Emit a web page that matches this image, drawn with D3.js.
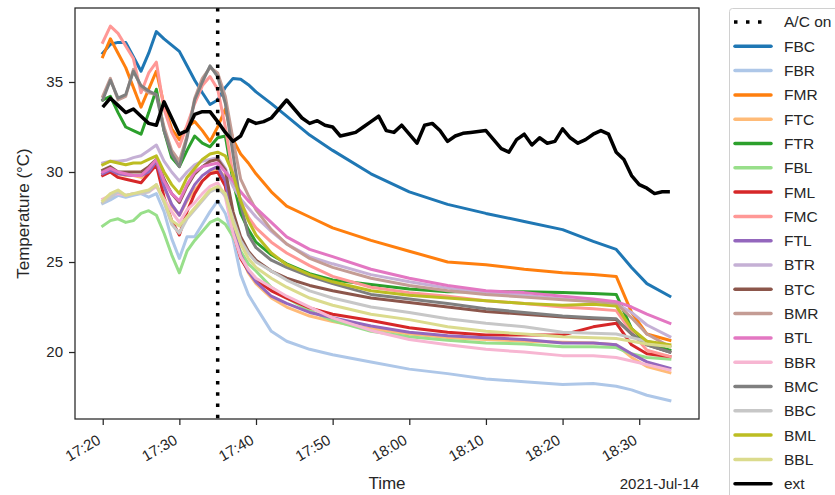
<!DOCTYPE html>
<html>
<head>
<meta charset="utf-8">
<script src="https://cdn.jsdelivr.net/npm/d3@7"></script>
<style>
body { margin: 0; background: #fff; }
text { font-family: "Liberation Sans", Arial, sans-serif; fill: #262626; }
</style>
</head>
<body>
<script>
var w = 835;
var h = 495;
var plot = {left: 75, right: 699, top: 8, bottom: 419};

var day = "2021-07-14";
var startTime = "17:20";
var acOnTime = "17:35";
var xDomain = ["17:16:23", "18:37:48"];
var yDomain = [16.28, 39.11];
var xTicks = ["17:20", "17:30", "17:40", "17:50", "18:00", "18:10", "18:20", "18:30"];
var yTicks = [20, 25, 30, 35];

var sensorMin = [0, 1, 2, 3, 4, 5, 6, 7, 8, 9, 10, 11, 12, 13, 14, 15, 16, 17, 18, 19, 20,
                 22, 24, 27, 30, 35, 40, 45, 50, 55, 60, 64, 67, 69, 71, 74];

var FBC = [36.6,37.1,37.2,37.2,36.4,35.6,36.6,37.8,37.4,37.05,36.7,35.9,35.1,34.4,33.75,34.0,34.7,35.2,35.15,34.85,34.45, 33.8,33.1,32.05,31.2,29.9,28.9,28.2,27.7,27.25,26.8,26.15,25.7,24.7,23.8,23.1];
var FBR = [28.25,28.45,28.7,28.6,28.7,28.8,28.6,28.8,27.8,26.3,25.2,26.4,26.4,27.1,27.8,28.4,27.7,26.3,24.3,23.2,22.5, 21.15,20.6,20.15,19.85,19.45,19.05,18.8,18.5,18.35,18.2,18.25,18.1,17.9,17.6,17.3];
var FMR = [36.4,37.4,36.6,35.8,34.7,33.6,34.6,35.6,33.7,32.4,31.8,32.5,32.8,32.3,31.7,32.5,33.5,31.8,31.0,30.5,29.9, 28.9,28.1,27.5,26.9,26.2,25.6,25.0,24.85,24.6,24.4,24.3,24.2,22.2,21.0,20.65];
var FTC = [29.9,30.1,29.9,29.8,29.8,29.7,30.0,30.6,29.2,28.1,27.6,28.4,29.0,29.5,29.9,30.2,29.7,27.3,25.4,24.4,23.8, 23.0,22.5,22.0,21.7,21.3,21.0,20.8,20.7,20.6,20.55,20.5,20.4,19.7,19.2,18.85];
var FTR = [34.0,34.2,33.3,32.5,32.3,32.1,33.3,34.6,32.3,30.8,30.3,31.2,32.0,31.6,31.4,31.9,32.0,29.5,27.7,26.8,26.1, 25.4,24.9,24.35,24.0,23.75,23.5,23.35,23.35,23.35,23.3,23.25,23.2,21.3,20.5,20.1];
var FBL = [27.0,27.3,27.4,27.2,27.3,27.7,27.85,27.6,26.6,25.4,24.4,25.6,26.2,26.7,27.2,27.4,27.1,26.4,25.6,24.9,24.5, 23.6,23.0,22.3,21.75,21.15,20.85,20.65,20.5,20.45,20.3,20.3,20.25,19.9,19.7,19.6];
var FML = [29.8,30.0,29.7,29.6,29.5,29.4,29.9,30.4,28.6,27.3,26.5,27.8,28.8,29.5,29.9,30.0,29.2,26.7,25.2,24.5,24.0, 23.4,23.0,22.45,22.1,21.75,21.35,21.1,20.95,20.95,20.95,21.4,21.6,20.4,19.9,19.75];
var FMC = [37.2,38.1,37.7,37.0,36.3,34.4,35.5,36.1,33.5,32.2,31.4,32.6,33.8,34.8,35.3,34.6,32.5,29.8,28.3,27.5,26.9, 26.1,25.5,24.8,24.2,23.6,23.3,23.1,22.85,22.7,22.5,22.4,22.3,21.1,20.1,19.75];
var FTL = [29.9,30.1,29.9,29.85,29.8,29.8,30.0,30.6,29.2,28.2,27.6,28.5,29.3,29.8,30.1,30.3,29.5,27.0,25.4,24.5,23.9, 23.1,22.7,22.2,21.9,21.45,21.1,20.9,20.8,20.7,20.5,20.5,20.4,19.9,19.45,19.1];
var BTR = [30.5,30.6,30.6,30.65,30.8,30.9,31.2,31.5,30.6,30.0,29.5,30.0,30.4,30.6,30.7,30.8,30.2,29.2,28.5,28.0,27.5, 26.7,26.0,25.3,24.9,24.3,23.9,23.55,23.3,23.15,22.95,22.8,22.7,22.2,21.5,20.85];
var BTC = [30.1,30.3,30.0,30.0,30.0,30.0,30.3,30.7,29.6,28.8,28.3,29.2,29.9,30.3,30.6,30.7,30.1,27.8,26.4,25.6,25.1, 24.5,24.1,23.7,23.4,23.0,22.75,22.5,22.25,22.1,21.95,21.85,21.8,21.0,20.4,20.0];
var BMR = [34.2,35.2,34.0,34.2,35.7,34.7,34.4,34.3,32.5,31.2,30.6,32.0,34.1,35.2,35.8,35.5,34.2,31.8,29.6,28.7,27.9, 26.8,26.0,25.2,24.7,24.1,23.7,23.4,23.2,23.05,22.9,22.8,22.7,21.9,21.0,20.3];
var BTL = [30.0,30.2,30.0,29.9,29.8,29.8,30.2,30.7,29.5,28.8,28.4,29.3,30.0,30.3,30.4,30.5,30.0,29.5,28.9,28.4,28.0, 27.2,26.4,25.7,25.3,24.6,24.1,23.7,23.4,23.3,23.1,22.95,22.8,22.5,22.1,21.6];
var BBR = [28.5,28.7,28.8,28.7,28.8,28.8,28.9,29.2,28.5,27.8,27.2,27.9,28.3,28.8,29.2,29.4,28.6,26.6,25.3,24.6,24.1, 23.6,23.1,22.5,21.9,21.2,20.7,20.4,20.15,20.0,19.8,19.8,19.7,19.5,19.3,19.0];
var BMC = [34.0,35.1,34.1,34.3,35.6,34.8,34.5,34.3,32.3,31.0,30.3,31.9,34.0,35.0,35.9,35.3,33.8,31.0,28.2,26.5,25.8, 25.1,24.7,24.2,23.8,23.2,22.95,22.7,22.4,22.2,22.0,21.9,21.85,21.0,20.4,20.0];
var BBC = [28.3,28.6,28.9,28.7,28.8,28.8,28.9,29.3,28.3,27.1,26.6,27.4,27.9,28.4,28.9,29.1,28.7,27.4,26.2,25.5,25.0, 24.5,24.0,23.4,23.0,22.5,22.2,21.85,21.6,21.4,21.1,21.05,21.0,20.8,20.6,20.3];
var BML = [30.4,30.6,30.5,30.4,30.5,30.5,30.7,30.9,30.0,29.3,28.8,29.7,30.2,30.7,31.0,31.1,30.9,29.9,28.4,27.3,26.5, 25.5,24.85,24.3,23.9,23.4,23.15,23.0,22.85,22.7,22.6,22.65,22.55,21.3,20.6,20.4];
var BBL = [28.4,28.8,29.0,28.7,28.8,28.9,29.0,29.3,28.4,27.3,27.0,27.5,28.0,28.5,29.0,29.2,28.8,27.2,26.0,25.2,24.7, 24.1,23.6,23.0,22.6,22.1,21.8,21.4,21.15,21.0,20.85,20.8,20.75,20.6,20.45,20.3];

// outside temperature, one reading per minute from 17:20
var ext = [33.6,34.1,33.7,33.3,33.5,33.1,32.7,32.6,33.9,33.0,
           32.1,32.3,33.2,33.35,33.35,32.8,32.2,31.7,32.0,32.9,
           32.7,32.8,33.0,33.5,34.0,33.5,33.0,32.7,32.85,32.6,
           32.5,32.0,32.1,32.2,32.5,32.8,33.1,32.3,32.2,32.6,
           32.1,31.6,32.6,32.7,32.3,31.7,32.0,32.15,32.2,32.25,
           32.3,31.8,31.3,31.1,31.8,32.1,31.5,31.9,31.6,31.7,
           32.4,31.9,31.6,31.8,32.1,32.3,32.1,31.1,30.7,29.8,
           29.3,29.1,28.8,28.9,28.9];
var extMin = d3.range(ext.length);

var names = ["FBC", "FBR", "FMR", "FTC", "FTR", "FBL", "FML", "FMC", "FTL",
             "BTR", "BTC", "BMR", "BTL", "BBR", "BMC", "BBC", "BML", "BBL"];
var values = [FBC, FBR, FMR, FTC, FTR, FBL, FML, FMC, FTL,
              BTR, BTC, BMR, BTL, BBR, BMC, BBC, BML, BBL];
var colors = ["#1f77b4", "#aec7e8", "#ff7f0e", "#ffbb78", "#2ca02c", "#98df8a", "#d62728", "#ff9896", "#9467bd",
              "#c5b0d5", "#8c564b", "#c49c94", "#e377c2", "#f7b6d2", "#7f7f7f", "#c7c7c7", "#bcbd22", "#dbdb8d"];

var parseFull = d3.timeParse("%Y-%m-%d %H:%M:%S");
var parseHM = d3.timeParse("%Y-%m-%d %H:%M");
var t0 = parseHM(day + " " + startTime);
function atMin(m) { return new Date(t0.getTime() + m * 60000); }

var xScale = d3.scaleTime()
    .domain([parseFull(day + " " + xDomain[0]), parseFull(day + " " + xDomain[1])])
    .range([plot.left, plot.right]);

var yScale = d3.scaleLinear()
    .domain(yDomain)
    .range([plot.bottom, plot.top]);

var svg = d3.select("body")
    .append("svg")
    .attr("width", w)
    .attr("height", h);

svg.append("clipPath").attr("id", "clip")
    .append("rect")
    .attr("x", plot.left).attr("y", plot.top)
    .attr("width", plot.right - plot.left).attr("height", plot.bottom - plot.top);

var line = d3.line()
    .x(function(d) { return xScale(d[0]); })
    .y(function(d) { return yScale(d[1]); });

var lines = svg.append("g").attr("clip-path", "url(#clip)");

// sensor lines, drawn in legend order
values.forEach(function(vals, i) {
    var pts = vals.map(function(v, j) { return [atMin(sensorMin[j]), v]; });
    lines.append("path")
        .datum(pts)
        .attr("d", line)
        .attr("fill", "none")
        .attr("stroke", colors[i])
        .attr("stroke-width", 3)
        .attr("stroke-linejoin", "round")
        .attr("stroke-linecap", "square");
});

// outside temperature
lines.append("path")
    .datum(ext.map(function(v, j) { return [atMin(extMin[j]), v]; }))
    .attr("d", line)
    .attr("fill", "none")
    .attr("stroke", "#000")
    .attr("stroke-width", 3.5)
    .attr("stroke-linejoin", "round");

// A/C switched on
var acX = xScale(parseHM(day + " " + acOnTime));
lines.append("line")
    .attr("x1", acX).attr("x2", acX)
    .attr("y1", plot.top).attr("y2", plot.bottom)
    .attr("stroke", "#000")
    .attr("stroke-width", 3.5)
    .attr("stroke-dasharray", "3.5,7.8");

// axes
var xAxis = svg.append("g")
    .attr("transform", "translate(0," + plot.bottom + ")")
    .call(d3.axisBottom(xScale)
        .tickValues(xTicks.map(function(s) { return parseHM(day + " " + s); }))
        .tickFormat(d3.timeFormat("%H:%M"))
        .tickSize(6));
xAxis.select(".domain").remove();
xAxis.selectAll(".tick line").attr("stroke", "#262626").attr("stroke-width", 1.25);
xAxis.selectAll(".tick text")
    .attr("font-size", 15)
    .attr("text-anchor", "end")
    .attr("dy", null)
    .attr("y", null)
    .attr("transform", "translate(-1.5,24) rotate(-30)");

var yAxis = svg.append("g")
    .attr("transform", "translate(" + plot.left + ",0)")
    .call(d3.axisLeft(yScale).tickValues(yTicks).tickSize(6).tickPadding(6));
yAxis.select(".domain").remove();
yAxis.selectAll(".tick line").attr("stroke", "#262626").attr("stroke-width", 1.25);
yAxis.selectAll(".tick text").attr("font-size", 15);

svg.selectAll(".tick text").attr("fill", "#262626").style("font-family", "'Liberation Sans', Arial, sans-serif");

// frame
svg.append("rect")
    .attr("x", plot.left).attr("y", plot.top)
    .attr("width", plot.right - plot.left).attr("height", plot.bottom - plot.top)
    .attr("fill", "none")
    .attr("stroke", "#262626")
    .attr("stroke-width", 1.25);

// labels
svg.append("text")
    .attr("text-anchor", "middle")
    .attr("x", (plot.left + plot.right) / 2)
    .attr("y", 489)
    .attr("font-size", 17)
    .text("Time");

svg.append("text")
    .attr("text-anchor", "end")
    .attr("x", plot.right)
    .attr("y", 489)
    .attr("font-size", 15)
    .text(d3.timeFormat("%Y-%b-%d")(t0));

svg.append("text")
    .attr("text-anchor", "middle")
    .attr("transform", "rotate(-90)")
    .attr("x", -(plot.top + plot.bottom) / 2)
    .attr("y", 29)
    .attr("font-size", 17)
    .text("Temperature (°C)");

// legend
var legendNames = ["A/C on"].concat(names).concat(["ext"]);
var legendColors = ["#000"].concat(colors).concat(["#000"]);
var legend = svg.append("g");
legend.append("rect")
    .attr("x", 729.5).attr("y", 8.5)
    .attr("width", 130).attr("height", 495)
    .attr("rx", 3)
    .attr("fill", "#fff")
    .attr("stroke", "#d0d0d0")
    .attr("stroke-width", 1);

legendNames.forEach(function(name, i) {
    var y = 22 + i * 24.3;
    var isAc = i === 0;
    legend.append("line")
        .attr("x1", isAc ? 734 : 735).attr("x2", isAc ? 770 : 771)
        .attr("y1", y).attr("y2", y)
        .attr("stroke", legendColors[i])
        .attr("stroke-width", 3.5)
        .attr("stroke-linecap", isAc ? "butt" : "round")
        .attr("stroke-dasharray", isAc ? "3.5,8.5" : null);
    legend.append("text")
        .attr("x", 784)
        .attr("y", y)
        .attr("dy", "0.35em")
        .attr("font-size", 15.5)
        .text(name);
});
</script>
</body>
</html>
